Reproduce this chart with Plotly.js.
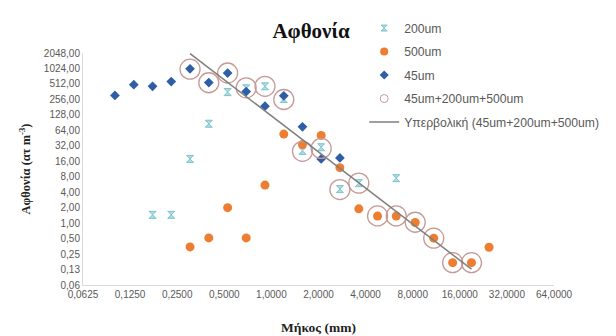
<!DOCTYPE html>
<html>
<head>
<meta charset="utf-8">
<script src="https://cdn.plot.ly/plotly-3.0.1.min.js"></script>
<style>html,body{margin:0;padding:0;background:#fff}#chart{width:616px;height:336px}</style>
</head>
<body>
<div id="chart"></div>
<script>
// 200um
const x200 = [0.174, 0.229, 0.302, 0.398, 0.525, 0.69, 0.91, 1.20, 1.58, 2.08, 2.74, 3.62, 6.28];
const y200 = [1.45, 1.45, 17.8, 86, 355, 420, 460, 260, 25.5, 30, 4.6, 6.0, 7.5];
// 500um
const x500 = [0.302, 0.398, 0.525, 0.69, 0.91, 1.20, 1.58, 2.08, 2.74, 3.62, 4.77, 6.28, 8.3, 10.9, 14.4, 19.0, 24.6];
const y500 = [0.345, 0.515, 2.0, 0.515, 5.5, 54, 33.8, 51, 12.0, 1.9, 1.37, 1.37, 1.03, 0.51, 0.17, 0.17, 0.34];
// 45um
const x45 = [0.100, 0.132, 0.174, 0.229, 0.302, 0.398, 0.525, 0.69, 0.91, 1.20, 1.58, 2.08, 2.74];
const y45 = [305, 495, 460, 568, 1010, 545, 835, 364, 189, 300, 75, 17.8, 18.6];
// 45um+200um+500um
const xAll = [0.302, 0.398, 0.525, 0.69, 0.91, 1.20, 1.58, 2.08, 2.74, 3.62, 4.77, 6.28, 8.3, 10.9, 14.4, 19.0];
const yAll = [990, 540, 835, 430, 460, 255, 25, 28.5, 4.5, 6.0, 1.38, 1.38, 1.04, 0.51, 0.17, 0.17];
// Power trendline (Υπερβολική) endpoints
const xTrend = [0.302, 19.0];
const yTrend = [2000, 0.127];

const seriesNames = ["200um", "500um", "45um", "45um+200um+500um", "Υπερβολική (45um+200um+500um)"];

const xTickVals = [0.0625, 0.125, 0.25, 0.5, 1, 2, 4, 8, 16, 32, 64];
const xTickText = ["0,0625", "0,1250", "0,2500", "0,5000", "1,0000", "2,0000", "4,0000", "8,0000", "16,0000", "32,0000", "64,0000"];
const yTickVals = [0.0625, 0.125, 0.25, 0.5, 1, 2, 4, 8, 16, 32, 64, 128, 256, 512, 1024, 2048];
const yTickText = ["0,06", "0,13", "0,25", "0,50", "1,00", "2,00", "4,00", "8,00", "16,00", "32,00", "64,00", "128,00", "256,00", "512,00", "1024,00", "2048,00"];

const cyanM = {symbol: "hourglass", color: "rgba(160,215,222,0.85)", line: {color: "#7cc3cc", width: 1}};
const orangeM = {symbol: "circle", color: "#ED7D31"};
const blueM = {symbol: "diamond", color: "#2F5DA6"};
const ringM = {symbol: "circle-open", color: "#C69A96", line: {width: 1.3}};

const traces = [
  {x: x200, y: y200, name: seriesNames[0], type: "scatter", mode: "markers", showlegend: false,
   marker: Object.assign({size: 7}, cyanM)},
  {x: x500, y: y500, name: seriesNames[1], type: "scatter", mode: "markers", showlegend: false,
   marker: Object.assign({size: 9}, orangeM)},
  {x: x45, y: y45, name: seriesNames[2], type: "scatter", mode: "markers", showlegend: false,
   marker: Object.assign({size: 7.5}, blueM)},
  {x: xAll, y: yAll, name: seriesNames[3], type: "scatter", mode: "markers", showlegend: false,
   marker: Object.assign({size: 20}, ringM)},
  {x: xTrend, y: yTrend, name: seriesNames[4], type: "scatter", mode: "lines", showlegend: false,
   line: {color: "#7F7F7F", width: 1.5}},
  // legend entries (small symbols as in the reference legend)
  {x: [null], y: [null], name: seriesNames[0], type: "scatter", mode: "markers", legendgroup: "a",
   marker: Object.assign({size: 6}, cyanM)},
  {x: [null], y: [null], name: seriesNames[1], type: "scatter", mode: "markers", legendgroup: "b",
   marker: Object.assign({size: 8}, orangeM)},
  {x: [null], y: [null], name: seriesNames[2], type: "scatter", mode: "markers", legendgroup: "c",
   marker: Object.assign({size: 7}, blueM)},
  {x: [null], y: [null], name: seriesNames[3], type: "scatter", mode: "markers", legendgroup: "d",
   marker: {symbol: "circle-open", size: 8, color: "#C69A96", line: {width: 1}}},
  {x: [null], y: [null], name: seriesNames[4], type: "scatter", mode: "lines", legendgroup: "e",
   line: {color: "#7F7F7F", width: 1.5}}
];

const axisFont = {family: "Liberation Sans, Arial, sans-serif", size: 10, color: "#595959"};
const layout = {
  width: 616, height: 336,
  margin: {l: 83, r: 21, t: 53, b: 51},
  paper_bgcolor: "#ffffff", plot_bgcolor: "#ffffff",
  title: {text: "<b>Αφθονία</b>", font: {family: "Liberation Serif, serif", size: 21, color: "#111"},
          x: 0.505, xanchor: "center", y: 0.91, yanchor: "middle"},
  xaxis: {type: "log", range: [Math.log10(0.0625), Math.log10(64)], tickvals: xTickVals, ticktext: xTickText,
          showline: true, linecolor: "#D9D9D9", linewidth: 1, ticks: "", showgrid: false, zeroline: false,
          tickfont: axisFont, automargin: false,
          title: {text: "<b>Μήκος (mm)</b>", font: {family: "Liberation Serif, serif", size: 13.5, color: "#222"}, standoff: 23}},
  yaxis: {type: "log", range: [Math.log10(0.0625), Math.log10(2048)], tickvals: yTickVals, ticktext: yTickText,
          showline: true, linecolor: "#D9D9D9", linewidth: 1, ticks: "", showgrid: false, zeroline: false,
          tickfont: axisFont, automargin: false,
          title: {text: "<b>Αφθονία (ατ m<sup>-3</sup>)</b>", font: {family: "Liberation Serif, serif", size: 12.5, color: "#222"}, standoff: 10}},
  legend: {x: 0.597, y: 1.17, xanchor: "left", yanchor: "top", bgcolor: "rgba(0,0,0,0)",
           font: {family: "Liberation Sans, Arial, sans-serif", size: 12.2, color: "#595959"},
           traceorder: "grouped", tracegroupgap: 4.5},
  showlegend: true
};

Plotly.newPlot("chart", traces, layout, {staticPlot: true, displayModeBar: false});
</script>
</body>
</html>
